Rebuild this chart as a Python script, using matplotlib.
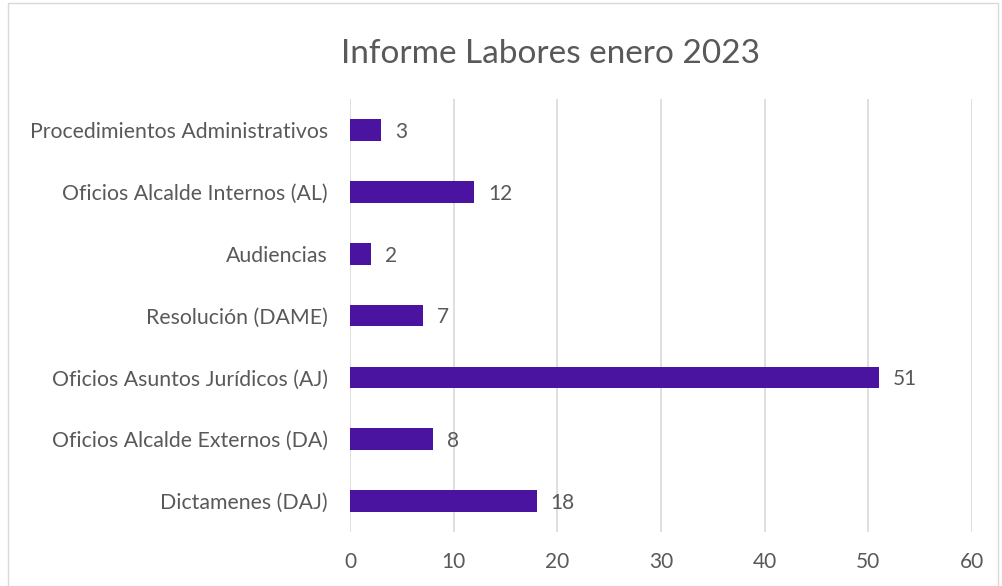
import matplotlib.pyplot as plt
from matplotlib.patches import Rectangle

# Datos
categorias = ['Procedimientos Administrativos', 'Oficios Alcalde Internos (AL)', 'Audiencias',
              'Resolución (DAME)', 'Oficios Asuntos Jurídicos (AJ)', 'Oficios Alcalde Externos (DA)',
              'Dictamenes (DAJ)']
valores = [3, 12, 2, 7, 51, 8, 18]
ticks_x = [0, 10, 20, 30, 40, 50, 60]

plt.rcParams['font.family'] = ['Lato', 'DejaVu Sans']
gris_texto = '#595959'
color_barra = '#4a14a0'

fig = plt.figure(figsize=(10.03, 5.86), dpi=100)
ax = fig.add_axes([0.349, 0.092, 0.620, 0.739])

pos = list(range(len(categorias)))
ax.barh(pos, valores, height=0.35, color=color_barra, zorder=3)
for p, v in zip(pos, valores):
    ax.text(v + 1.35, p + 0.03, str(v), va='center', ha='left', fontsize=15, color=gris_texto)

ax.set_yticks(pos)
ax.set_yticklabels(categorias, fontsize=15.3, color=gris_texto)
ax.set_ylim(len(categorias) - 0.5, -0.5)
ax.set_xlim(0, 60)
ax.set_xticks(ticks_x)
ax.set_xticklabels([str(t) for t in ticks_x], fontsize=15, color=gris_texto)
ax.tick_params(length=0)
ax.tick_params(axis='x', pad=14)
ax.tick_params(axis='y', pad=16)
ax.grid(axis='x', color='#d9d9d9', linewidth=1.2, zorder=0)
for s in ax.spines.values():
    s.set_visible(False)

fig.text(0.549, 0.908, 'Informe Labores enero 2023', ha='center', va='center',
         fontsize=24, color=gris_texto)

# borde del gráfico
fig.patches.append(Rectangle((0.008, -0.01), 0.987, 1.005, transform=fig.transFigure,
                             fill=False, edgecolor='#d9d9d9', linewidth=1))

fig.savefig('out.png', dpi=100)
